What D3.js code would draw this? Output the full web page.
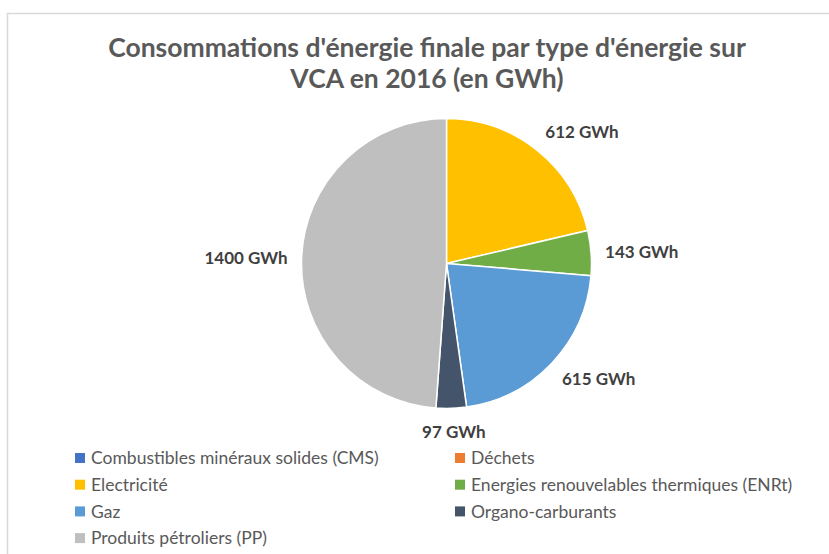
<!DOCTYPE html>
<html>
<head>
<meta charset="utf-8">
<script src="https://cdn.jsdelivr.net/npm/d3@7/dist/d3.min.js"></script>
<style>
  body { margin: 0; background: #fff; }
  text { font-family: Lato, "Open Sans", sans-serif; }
</style>
</head>
<body>
<svg id="chart"></svg>
<script>
// data
var categories = ["Combustibles minéraux solides (CMS)", "Déchets", "Electricité",
                  "Energies renouvelables thermiques (ENRt)", "Gaz", "Organo-carburants",
                  "Produits pétroliers (PP)"];
var values = [0, 0, 612, 143, 615, 97, 1400];
var colors = ["#4472C4", "#ED7D31", "#FFC000", "#70AD47", "#5B9BD5", "#44546A", "#BFBFBF"];
var titleLines = ["Consommations d'énergie finale par type d'énergie sur", "VCA en 2016 (en GWh)"];
var unit = " GWh";

var width = 829, height = 554;
var svg = d3.select('#chart').attr('width', width).attr('height', height);

// chart area frame (cut off on the right / bottom like the original)
svg.append('rect')
   .attr('x', 7.5).attr('y', 13.5)
   .attr('width', 900).attr('height', 900)
   .attr('fill', 'none')
   .attr('stroke', '#d9d9d9')
   .attr('stroke-width', 1.5);

// title
svg.append('g').selectAll('text')
   .data(titleLines)
   .enter().append('text')
     .attr('x', 427)
     .attr('y', (d, i) => 57 + i * 31)
     .attr('text-anchor', 'middle')
     .attr('fill', '#595959')
     .style('font-size', '26.5px')
     .style('font-weight', 'bold')
     .text(d => d);

var data = categories.map((c, i) => ({name: c, value: values[i], color: colors[i]}));

var cx = 446.5, cy = 263.5, radius = 145;
var pie = d3.pie().sort(null).value(d => d.value);
var arc = d3.arc().innerRadius(0).outerRadius(radius);
var arcs = pie(data);

var g = svg.append('g').attr('transform', `translate(${cx},${cy})`);
g.selectAll('path.slice')
  .data(arcs.filter(d => d.value > 0))
  .enter().append('path')
    .attr('class', 'slice')
    .attr('d', arc)
    .attr('fill', d => d.data.color)
    .attr('stroke', '#fff')
    .attr('stroke-width', 1.5);

// data labels, placed just outside the slice ("outside end")
var labelR = radius + 14;
var labels = g.selectAll('text.lbl')
  .data(arcs.filter(d => d.value > 0))
  .enter().append('text')
    .attr('class', 'lbl')
    .attr('fill', '#404040')
    .style('font-size', '17px')
    .style('font-weight', 'bold')
    .attr('text-anchor', 'middle')
    .attr('dominant-baseline', 'central')
    .text(d => d.data.value + unit);

labels.each(function(d) {
    var a = (d.startAngle + d.endAngle) / 2;
    var s = Math.sin(a), c = Math.cos(a);
    var w = this.getComputedTextLength() / 2, h = 9;
    var k = Math.max(-1, Math.min(1, 2 * s));
    d3.select(this)
      .attr('x', labelR * s + w * k)
      .attr('y', -labelR * c - h * c);
});

// legend, two columns
var legend = svg.append('g');
var item = legend.selectAll('g.item')
  .data(data)
  .enter().append('g')
    .attr('class', 'item')
    .attr('transform', (d, i) => `translate(${i % 2 == 0 ? 75 : 455},${458 + Math.floor(i / 2) * 26.7})`);
item.append('rect')
    .attr('x', 0).attr('y', -5)
    .attr('width', 10).attr('height', 10)
    .attr('fill', d => d.color);
item.append('text')
    .attr('x', 16)
    .attr('dy', '0.35em')
    .attr('fill', '#595959')
    .style('font-size', '17.5px')
    .text(d => d.name);
</script>
</body>
</html>
